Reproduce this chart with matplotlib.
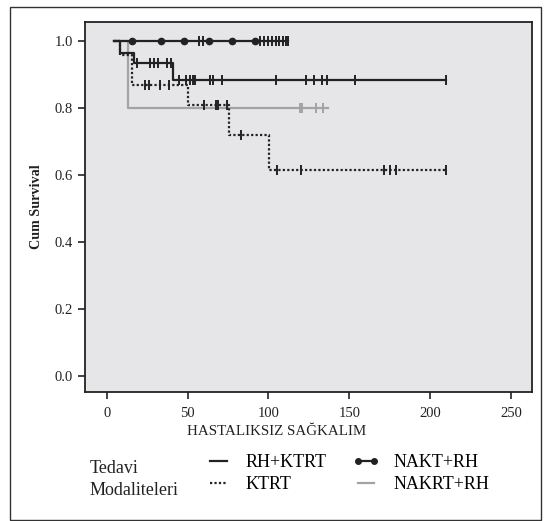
import numpy as np
import matplotlib
matplotlib.use("Agg")
import matplotlib.pyplot as plt
from matplotlib.lines import Line2D
from matplotlib.patches import Rectangle

plt.rcParams["font.family"] = ["Liberation Serif", "DejaVu Serif"]

# step curves (time of change, survival after change)
rh_ktrt_t = [4.5, 8.3, 16.9, 40.8, 210.0]
rh_ktrt_s = [1.0, 0.963, 0.934, 0.883, 0.883]
rh_ktrt_cens = [18.5, 26.5, 29.3, 32.0, 37.5, 40.0, 44.5, 49.0, 51.5, 53.5, 54.5,
                64.0, 66.0, 71.5, 105.0, 123.5, 128.0, 133.0, 136.0, 153.5, 210.0]

ktrt_t = [4.5, 8.0, 15.6, 50.5, 75.5, 100.6, 210.0]
ktrt_s = [1.0, 0.957, 0.868, 0.808, 0.719, 0.614, 0.614]
ktrt_cens = [24.0, 26.0, 33.0, 38.5, 60.0, 67.5, 69.0, 74.5, 83.0,
             105.5, 120.0, 171.5, 175.5, 179.0, 210.0]

nakt_t = [4.5, 112.0]
nakt_s = [1.0, 1.0]
nakt_dots = [15.5, 33.3, 47.7, 63.5, 77.5, 92.0]
nakt_cens = [57.3, 59.8, 95.0, 97.5, 100.0, 102.0, 104.5, 106.5, 109.0, 111.0, 112.0]

nakrt_t = [4.5, 13.2, 137.0]
nakrt_s = [1.0, 0.80, 0.80]
nakrt_cens = [119.5, 120.5, 129.5, 133.5]

x_ticks = [0, 50, 100, 150, 200, 250]
y_ticks = [0.0, 0.2, 0.4, 0.6, 0.8, 1.0]

GRAY = "#a3a3a3"
INK = "#222222"
DOTTED = (0, (1.0, 1.0))


def step_value(times, surv, x):
    idx = np.searchsorted(times, x, side="right") - 1
    return np.asarray(surv)[np.clip(idx, 0, len(surv) - 1)]


fig = plt.figure(figsize=(5.47, 5.21), dpi=100)
fig.patches.append(Rectangle((10 / 547, 1 - 520 / 521), 531 / 547, 513 / 521,
                             transform=fig.transFigure, fill=False,
                             edgecolor="#333333", linewidth=1.0))
ax = fig.add_axes([85 / 547, 1 - 392 / 521, 447 / 547, 370 / 521])
ax.set_facecolor("#e6e6e8")

curves = [
    (nakrt_t, nakrt_s, nakrt_cens, dict(color=GRAY, lw=1.6, ls="-")),
    (ktrt_t, ktrt_s, ktrt_cens, dict(color=INK, lw=1.6, ls=DOTTED)),
    (rh_ktrt_t, rh_ktrt_s, rh_ktrt_cens, dict(color=INK, lw=1.6, ls="-")),
    (nakt_t, nakt_s, nakt_cens, dict(color=INK, lw=1.6, ls="-")),
]
for t, s, cens, style in curves:
    ax.step(t, s, where="post", **style)
    ax.plot(cens, step_value(t, s, cens), ls="none", marker="|",
            markersize=7.5, mew=1.4, color=style["color"])

ax.plot(nakt_dots, step_value(nakt_t, nakt_s, nakt_dots), ls="none",
        marker="o", markersize=4.5, color=INK)

ax.set_xlim(-13.4, 263)
ax.set_ylim(-0.048, 1.056)
ax.set_xticks(x_ticks)
ax.set_yticks(y_ticks)
ax.set_yticklabels([f"{v:.1f}" for v in y_ticks])
ax.tick_params(axis="both", direction="out", length=5, width=1.2,
               labelsize=10.5, colors=INK)
ax.tick_params(axis="x", pad=6)
for sp in ax.spines.values():
    sp.set_linewidth(1.3)
    sp.set_color(INK)

ax.set_xlabel("HASTALIKSIZ SAĞKALIM", fontsize=10.8, color=INK)
ax.xaxis.set_label_coords(0.429, -0.09)
ax.set_ylabel("Cum Survival", fontsize=10.2, fontweight="bold", color=INK)
ax.yaxis.set_label_coords(-0.095, 0.5)

handles = [
    Line2D([], [], color=INK, lw=1.6, ls="-"),
    Line2D([], [], color=INK, lw=1.6, ls=DOTTED),
    Line2D([], [], color=INK, lw=1.6, ls="-", marker="o", markersize=4),
    Line2D([], [], color=GRAY, lw=1.6, ls="-"),
]
labels = ["RH+KTRT", "KTRT", "NAKT+RH", "NAKRT+RH"]
fig.legend(handles, labels, ncol=2, loc="upper left",
           bbox_to_anchor=(205 / 547, 1 - 454 / 521), frameon=False,
           borderpad=0, borderaxespad=0, handlelength=1.5, handletextpad=0.75,
           columnspacing=1.45, labelspacing=0.28, numpoints=2,
           prop={"size": 13})

fig.text(90 / 547, 1 - 473 / 521, "Tedavi", fontsize=13, va="baseline",
         color=INK)
fig.text(90 / 547, 1 - 495 / 521, "Modaliteleri", fontsize=13,
         va="baseline", color=INK)

fig.savefig("out.png", dpi=100)
